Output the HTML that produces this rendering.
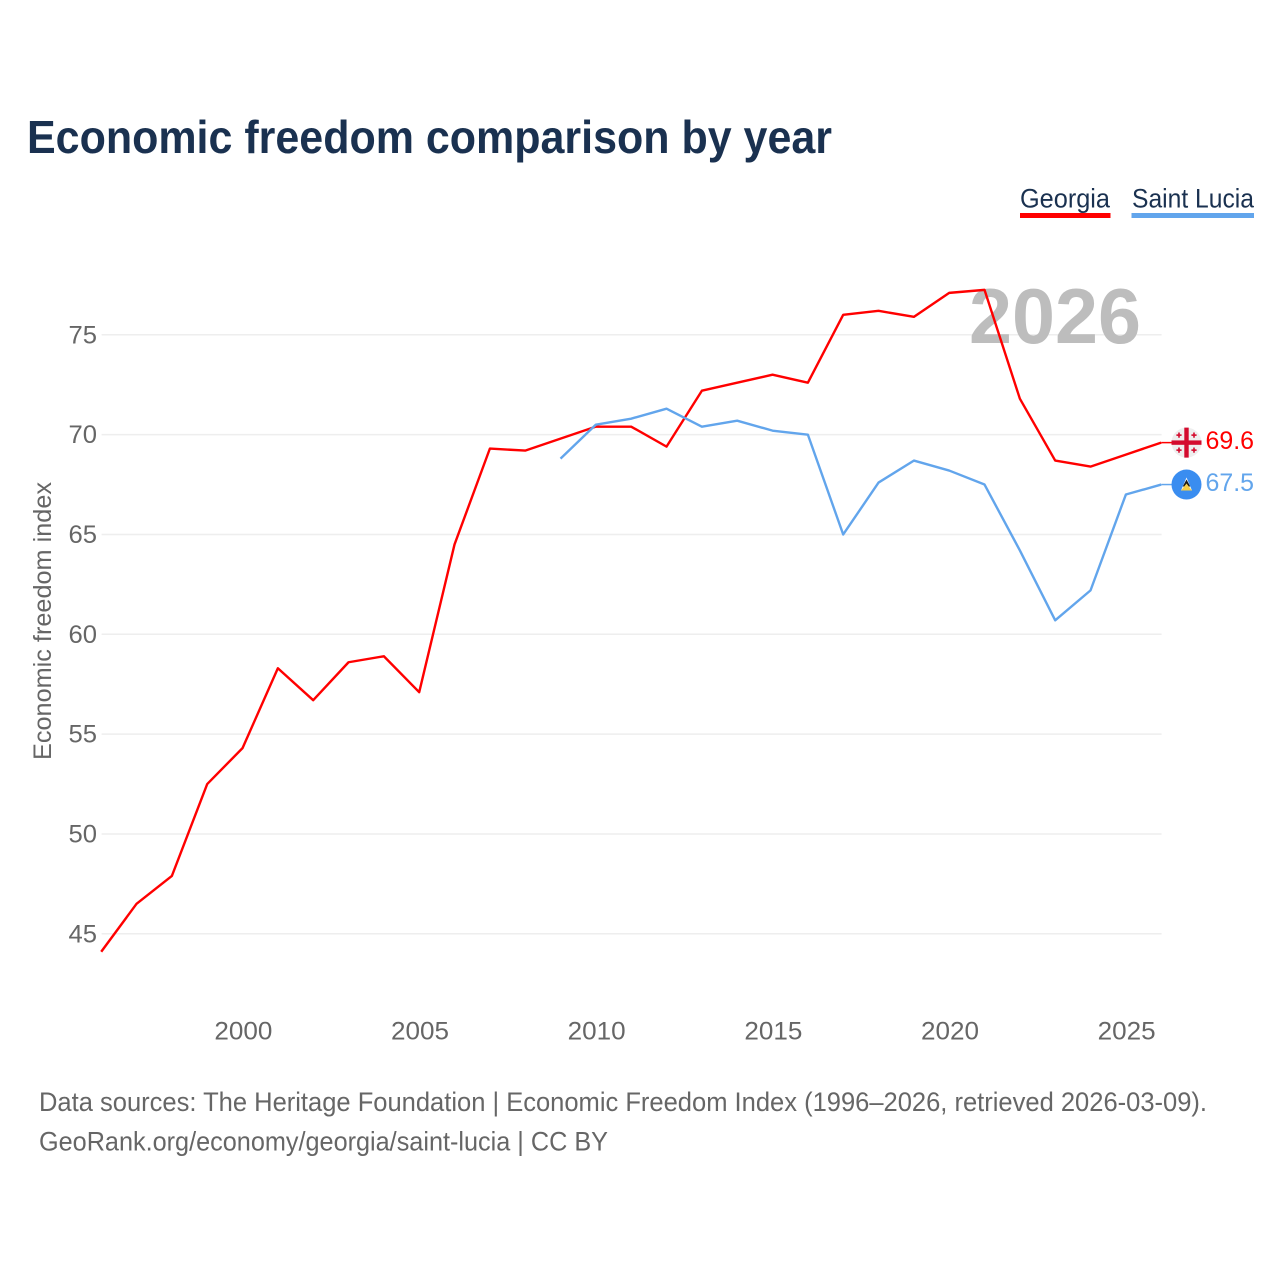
<!DOCTYPE html>
<html lang="en">
<head>
<meta charset="utf-8">
<title>Economic freedom comparison by year</title>
<style>
html,body{margin:0;padding:0;background:#fff}
svg{display:block}
text{font-family:"Liberation Sans",sans-serif}
</style>
</head>
<body>
<svg id="chart" xmlns="http://www.w3.org/2000/svg" width="1280" height="1280" viewBox="0 0 1280 1280">
  <rect x="0" y="0" width="1280" height="1280" fill="#fff"/>
  <text x="27" y="153" font-size="46" font-weight="700" fill="#1a3150" textLength="805" lengthAdjust="spacingAndGlyphs">Economic freedom comparison by year</text>

  <g>
    <text x="1020" y="207.500" font-size="27" fill="#1a3150" textLength="90" lengthAdjust="spacingAndGlyphs">Georgia</text>
    <rect x="1020" y="213" width="90.500" height="5" fill="#ff0000"/>
  </g>
  <g>
    <text x="1132" y="207.500" font-size="27" fill="#1a3150" textLength="122" lengthAdjust="spacingAndGlyphs">Saint Lucia</text>
    <rect x="1131.500" y="213" width="122.500" height="5" fill="#62a5ec"/>
  </g>

  <g id="grid"></g>
  <g id="yticks"></g>
  <g id="xticks"></g>

  <text transform="translate(51,760) rotate(-90)" font-size="25" fill="#666" textLength="278" lengthAdjust="spacingAndGlyphs">Economic freedom index</text>

  <text x="969" y="343" font-size="78" font-weight="700" fill="#bdbdbd" textLength="172" lengthAdjust="spacingAndGlyphs">2026</text>

  <g id="series"></g>
  <g id="ends"></g>

  <text x="39" y="1111" font-size="27" fill="#666" textLength="1168" lengthAdjust="spacingAndGlyphs">Data sources: The Heritage Foundation | Economic Freedom Index (1996–2026, retrieved 2026-03-09).</text>
  <text x="39" y="1150.500" font-size="27" fill="#666" textLength="569" lengthAdjust="spacingAndGlyphs">GeoRank.org/economy/georgia/saint-lucia | CC BY</text>
</svg>
<script>
const years = [1996,1997,1998,1999,2000,2001,2002,2003,2004,2005,2006,2007,2008,2009,2010,2011,2012,2013,2014,2015,2016,2017,2018,2019,2020,2021,2022,2023,2024,2025,2026];
const georgiaValues = [44.1,46.5,47.9,52.5,54.3,58.3,56.7,58.6,58.9,57.1,64.5,69.3,69.2,69.8,70.4,70.4,69.4,72.2,72.6,73.0,72.6,76.0,76.2,75.9,77.1,77.25,71.8,68.7,68.4,69.0,69.6];
const saintLuciaValues = [null,null,null,null,null,null,null,null,null,null,null,null,null,68.8,70.5,70.8,71.3,70.4,70.7,70.2,70.0,65.0,67.6,68.7,68.2,67.5,64.2,60.7,62.2,67.0,67.5];
const yTickValues = [45,50,55,60,65,70,75];
const xTickValues = [2000,2005,2010,2015,2020,2025];

const NS = 'http://www.w3.org/2000/svg';
function xScale(year){ return 101.2 + (year - 1996) * (1161.2 - 101.2) / 30; }
function yScale(v){ return 933.8 - (v - 45) * (933.8 - 334.8) / 30; }
function make(tag, attrs, parent, content){
  const el = document.createElementNS(NS, tag);
  for (const k in attrs) el.setAttribute(k, attrs[k]);
  if (content !== undefined) el.textContent = content;
  parent.appendChild(el);
  return el;
}
const grid = document.getElementById('grid');
const yticks = document.getElementById('yticks');
const xticks = document.getElementById('xticks');
const series = document.getElementById('series');
const ends = document.getElementById('ends');

yTickValues.forEach(function(v){
  const line = make('line', {x1:101.6, x2:1161.6, y1:yScale(v), y2:yScale(v), stroke:'#eeeeee', 'stroke-width':1.5}, grid);
  
  
  const label = make('text', {x:97, y:yScale(v) + 8.5, 'font-size':25, fill:'#666', 'text-anchor':'end', textLength:28.500, lengthAdjust:'spacingAndGlyphs'}, yticks, String(v));
  
  
});

xTickValues.forEach(function(y){
  const label = make('text', {x:xScale(y) + 0.8, y:1039.5, 'font-size':25, fill:'#666', 'text-anchor':'middle', textLength:58, lengthAdjust:'spacingAndGlyphs'}, xticks, String(y));
  
  
});

function pathFor(values){
  let d = '';
  values.forEach(function(v, i){
    if (v === null) return;
    d += (d ? 'L' : 'M') + xScale(years[i]).toFixed(2) + ' ' + yScale(v).toFixed(2);
  });
  return d;
}
const georgiaLine = make('path', {d:pathFor(georgiaValues), fill:'none', stroke:'#ff0000', 'stroke-width':2.4, 'stroke-linejoin':'round'}, series);


const luciaLine = make('path', {d:pathFor(saintLuciaValues), fill:'none', stroke:'#62a5ec', 'stroke-width':2.4, 'stroke-linejoin':'round'}, series);



// End-of-line markers and values
const gv = georgiaValues[georgiaValues.length - 1];
const lv = saintLuciaValues[saintLuciaValues.length - 1];
const gy = yScale(gv);
const ly = yScale(lv);
const cx = 1186.5;

const gConn = make('line', {x1:1161.2, x2:1172, y1:gy, y2:gy, stroke:'#ff0000', 'stroke-width':1.5}, ends);


const lConn = make('line', {x1:1161.2, x2:1172, y1:ly, y2:ly, stroke:'#62a5ec', 'stroke-width':1.5}, ends);



const gFlag = make('g', {transform:'translate(' + cx + ',' + gy + ')'}, ends);


make('circle', {r:15, fill:'#eeeeee'}, gFlag);
make('rect', {x:-2.2, y:-15, width:4.4, height:30, fill:'#d40b2e'}, gFlag);
make('rect', {x:-15, y:-2.2, width:30, height:4.4, fill:'#d40b2e'}, gFlag);
[[-7.500,-7.500],[7.500,-7.500],[-7.500,7.500],[7.500,7.500]].forEach(function(p){
  make('rect', {x:p[0]-2.6, y:p[1]-0.8, width:5.2, height:1.6, fill:'#d40b2e'}, gFlag);
  make('rect', {x:p[0]-0.8, y:p[1]-2.6, width:1.6, height:5.2, fill:'#d40b2e'}, gFlag);
});

const lFlag = make('g', {transform:'translate(' + cx + ',' + ly + ')'}, ends);


make('circle', {r:15, fill:'#3a8df0'}, lFlag);
make('polygon', {points:'0,-7 5.500,6 -5.500,6', fill:'#ffffff'}, lFlag);
make('polygon', {points:'0,-5 3.800,2 -3.800,2', fill:'#1a1a1a'}, lFlag);
make('polygon', {points:'0,-1 5.500,6 -5.500,6', fill:'#f7ce46'}, lFlag);

const gLabel = make('text', {x:1205.5, y:gy + 6.2, 'font-size':25, fill:'#ff0000', textLength:48.500, lengthAdjust:'spacingAndGlyphs'}, ends, gv.toFixed(1));


const lLabel = make('text', {x:1205.5, y:ly + 6.2, 'font-size':25, fill:'#62a5ec', textLength:48.500, lengthAdjust:'spacingAndGlyphs'}, ends, lv.toFixed(1));


</script>
</body>
</html>
